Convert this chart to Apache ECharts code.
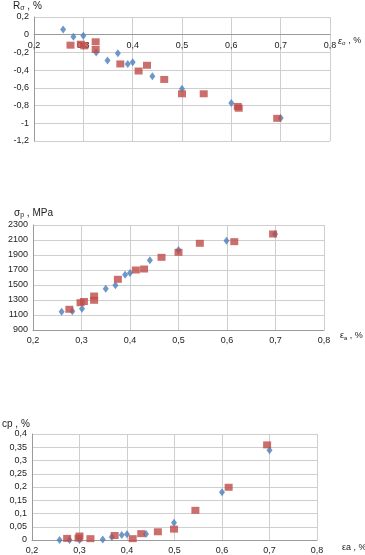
<!DOCTYPE html>
<html><head><meta charset="utf-8">
<script src="https://cdn.jsdelivr.net/npm/echarts@6/dist/echarts.min.js"></script>
<style>html,body{margin:0;padding:0;background:#fff}#c{width:365px;height:555px}</style>
</head><body><div id="c"></div>
<script>
// Chart 1: R_sigma vs eps_sigma
const r_blue_x = [0.259,0.28,0.30,0.326,0.349,0.37,0.39,0.40,0.44,0.50,0.60,0.70];
const r_blue_y = [0.06,-0.024,-0.013,-0.20,-0.29,-0.21,-0.33,-0.31,-0.47,-0.61,-0.77,-0.94];
const r_red_x = [0.274,0.295,0.302,0.325,0.325,0.375,0.412,0.429,0.464,0.50,0.544,0.613,0.615,0.693];
const r_red_y = [-0.118,-0.107,-0.126,-0.08,-0.167,-0.33,-0.41,-0.345,-0.505,-0.667,-0.667,-0.81,-0.83,-0.944];
// Chart 2: sigma_p vs eps_a
const s_blue_x = [0.259,0.281,0.301,0.35,0.37,0.39,0.40,0.441,0.50,0.599,0.699];
const s_blue_y = [1144,1149,1184,1451,1496,1638,1660,1829,1967,2091,2180];
const s_red_x = [0.275,0.298,0.305,0.326,0.326,0.375,0.412,0.429,0.465,0.50,0.544,0.615,0.695];
const s_red_y = [1176,1264,1280,1353,1296,1576,1700,1713,1869,1936,2056,2078,2180];
// Chart 3: cp vs eps_a
const c_blue_x = [0.258,0.279,0.30,0.349,0.368,0.389,0.40,0.44,0.499,0.60,0.70];
const c_blue_y = [0.0,0.0,0.0,0.002,0.011,0.019,0.022,0.023,0.065,0.18,0.339];
const c_red_x = [0.274,0.298,0.30,0.323,0.374,0.412,0.43,0.465,0.499,0.544,0.614,0.695];
const c_red_y = [0.006,0.007,0.015,0.005,0.017,0.005,0.024,0.031,0.041,0.112,0.199,0.359];
// Tick settings
const xTicks = {min:0.2, max:0.8, interval:0.1};
const rTicks = {min:-1.2, max:0.2, interval:0.2};
const sTicks = {min:900, max:2300, interval:200};
const cTicks = {min:0, max:0.4, interval:0.05};

const zip = (a,b) => a.map((v,i)=>[v,b[i]]);
const fmt = v => String(+v.toFixed(2)).replace('.', ',');
const F = 'Liberation Sans, Arial, sans-serif';
const gridLine = {show:true, lineStyle:{color:'#cfcfcf', width:1}};
const axLine = {show:true, onZero:false, lineStyle:{color:'#9a9a9a', width:1}};
const lbl = {fontSize:9, color:'#222', fontFamily:F, formatter:fmt};
function xAx(i, extra){ return Object.assign({type:'value', gridIndex:i, ...xTicks, splitLine:gridLine, axisLine:axLine, axisTick:{show:false}, axisLabel:Object.assign({}, lbl, {margin:6})}, extra||{}); }
function yAx(i, t, extra){ return Object.assign({type:'value', gridIndex:i, ...t, splitLine:gridLine, axisLine:axLine, axisTick:{show:false}, axisLabel:Object.assign({}, lbl, {margin:5})}, extra||{}); }
const blue = '#4A7EBB', red = '#BE4B48';
function sc(x,y,i,isRed){ return {type:'scatter', xAxisIndex:i, yAxisIndex:i, data:zip(x,y), symbol:isRed?'rect':'diamond', symbolSize:isRed?[8,7]:[6,8], itemStyle:{color:isRed?red:blue}, z:isRed?3:2}; }
const mk = (fs, ss) => ({
  t:{fontSize:fs, color:'#222', fontFamily:F, fontWeight:'normal'},
  it:{fontSize:fs, color:'#222', fontFamily:F, fontStyle:'italic', fontWeight:'normal'},
  s:{fontSize:ss, color:'#222', fontFamily:F, fontWeight:'normal', verticalAlign:'bottom', padding:[4,0,0,0]}
});
const rich = mk(10, 7), rich2 = mk(9, 6);
const ttl = (text, left, top, r) => ({text, left, top, padding:0, textStyle:{fontWeight:'normal', rich:r}});
const ch = echarts.init(document.getElementById('c'));
const g0 = {left:34, top:17, width:296, height:124};
const zeroOffset = -(g0.height * 1.2 / 1.4);
ch.setOption({
  animation:false,
  grid:[
    g0,
    {left:33, top:225, width:291, height:105},
    {left:32, top:434, width:285, height:108}
  ],
  xAxis:[ xAx(0,{offset:zeroOffset}), xAx(1), xAx(2) ],
  yAxis:[ yAx(0,rTicks), yAx(1,sTicks,{axisLabel:Object.assign({}, lbl, {margin:5, formatter:v=>String(v)})}), yAx(2,cTicks) ],
  title:[
    ttl('{t|R}{s|σ}{t| , %}', 13, 1, rich),
    ttl('{it|ε}{s|σ}{t| , %}', 338, 36, rich2),
    ttl('{t|σ}{s|p}{t| , MPa}', 14, 208, rich),
    ttl('{t|ε}{s|a}{t| , %}', 340, 331, rich2),
    ttl('{t|cp , %}', 2, 419, rich),
    ttl('{t|εa , %}', 342, 543, rich2)
  ],
  series:[
    sc(r_blue_x,r_blue_y,0,false), sc(r_red_x,r_red_y,0,true),
    sc(s_blue_x,s_blue_y,1,false), sc(s_red_x,s_red_y,1,true),
    sc(c_blue_x,c_blue_y,2,false), sc(c_red_x,c_red_y,2,true)
  ]
});
</script></body></html>
